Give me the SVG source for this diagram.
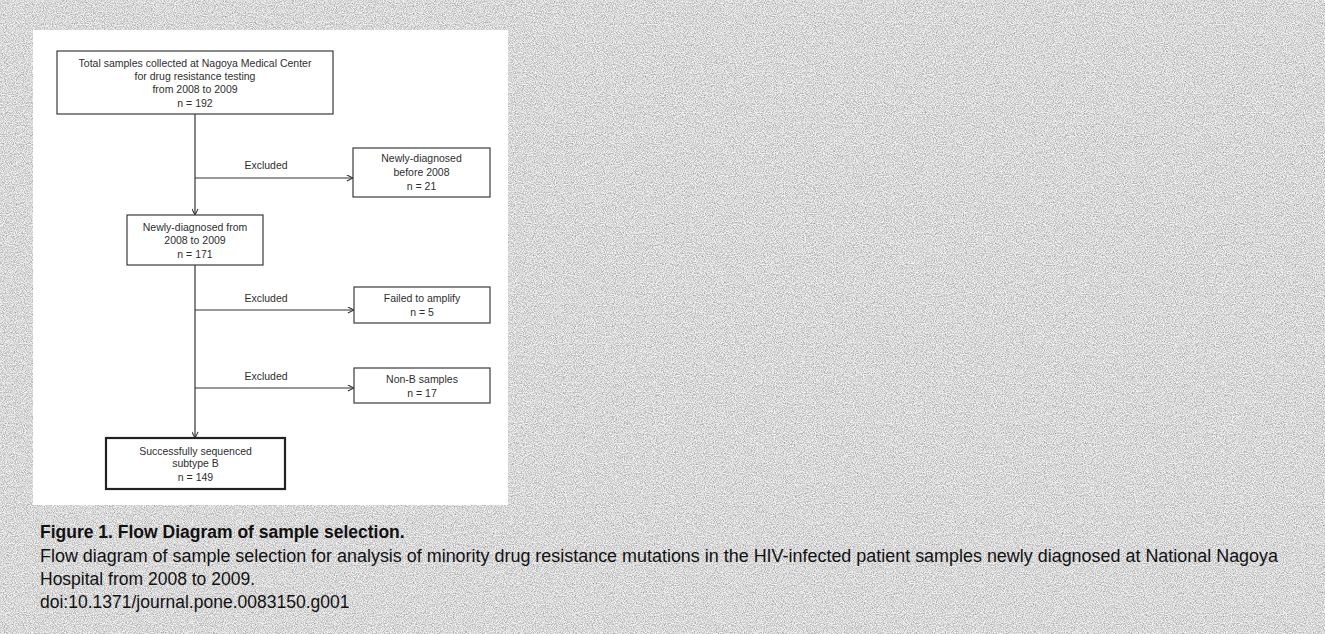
<svg xmlns="http://www.w3.org/2000/svg" width="1325" height="634" viewBox="0 0 1325 634">
<style>
.box{fill:#ffffff;stroke:#3a3a3a;stroke-width:1.2}
.boxb{fill:#ffffff;stroke:#222;stroke-width:2.2}
.t{font-family:"Liberation Sans",Arial,sans-serif;font-size:10.5px;fill:#2e2e2e;text-anchor:middle}
.ln{stroke:#333;stroke-width:1.2;fill:none}
.cap{font-family:"Liberation Sans",Arial,sans-serif;font-size:17.5px;fill:#111}
.capb{font-family:"Liberation Sans",Arial,sans-serif;font-size:17.5px;font-weight:bold;fill:#111}
</style>
<defs>
<filter id="noise" x="0" y="0" width="100%" height="100%">
<feTurbulence type="fractalNoise" baseFrequency="0.9" numOctaves="2" seed="7"/>
<feColorMatrix type="matrix" values="0 0 0 0 0  0 0 0 0 0  0 0 0 0 0  0.65 0 0 0 -0.21"/>
</filter>
<marker id="arr" viewBox="0 0 8 8" refX="7.5" refY="4" markerWidth="7" markerHeight="7" markerUnits="userSpaceOnUse" orient="auto">
<path d="M0.5,0.5 L7.5,4 L0.5,7.5" fill="none" stroke="#333" stroke-width="1.2"/>
</marker>
</defs>
<rect x="0" y="0" width="1325" height="634" fill="#f4f4f4"/>
<rect x="0" y="0" width="1325" height="634" filter="url(#noise)"/>
<rect x="33" y="30" width="475" height="475" fill="#ffffff"/>

<g id="connectors">
<line class="ln" x1="195" y1="114" x2="195" y2="215" marker-end="url(#arr)"/>
<line class="ln" x1="195" y1="178" x2="353" y2="178" marker-end="url(#arr)"/>
<line class="ln" x1="195" y1="265" x2="195" y2="438" marker-end="url(#arr)"/>
<line class="ln" x1="195" y1="310" x2="354" y2="310" marker-end="url(#arr)"/>
<line class="ln" x1="195" y1="388" x2="354" y2="388" marker-end="url(#arr)"/>
<text class="t" x="266" y="168.5">Excluded</text>
<text class="t" x="266" y="301.5">Excluded</text>
<text class="t" x="266" y="379.5">Excluded</text>
</g>

<g id="node-total">
<rect class="box" x="57" y="51" width="276" height="63"/>
<text class="t" x="195" y="66.5">Total samples collected at Nagoya Medical Center</text>
<text class="t" x="195" y="79.5">for drug resistance testing</text>
<text class="t" x="195" y="92.5">from 2008 to 2009</text>
<text class="t" x="195" y="106.5">n = 192</text>
</g>

<g id="node-before2008">
<rect class="box" x="353" y="148" width="137" height="49"/>
<text class="t" x="421.5" y="161.5">Newly-diagnosed</text>
<text class="t" x="421.5" y="175.5">before 2008</text>
<text class="t" x="421.5" y="189.5">n = 21</text>
</g>

<g id="node-newly">
<rect class="box" x="127" y="215" width="136" height="50"/>
<text class="t" x="195" y="230.5">Newly-diagnosed from</text>
<text class="t" x="195" y="243.5">2008 to 2009</text>
<text class="t" x="195" y="257.5">n = 171</text>
</g>

<g id="node-failed">
<rect class="box" x="354" y="287" width="136" height="36"/>
<text class="t" x="422" y="301.5">Failed to amplify</text>
<text class="t" x="422" y="315.5">n = 5</text>
</g>

<g id="node-nonb">
<rect class="box" x="354" y="368" width="136" height="35"/>
<text class="t" x="422" y="382.5">Non-B samples</text>
<text class="t" x="422" y="396.5">n = 17</text>
</g>

<g id="node-final">
<rect class="boxb" x="106" y="438" width="179" height="51"/>
<text class="t" x="195.5" y="454.5">Successfully sequenced</text>
<text class="t" x="195.5" y="466.5">subtype B</text>
<text class="t" x="195.5" y="480.5">n = 149</text>
</g>

<g id="caption">
<text class="capb" x="40" y="538">Figure 1. Flow Diagram of sample selection.</text>
<text class="cap" x="40" y="562" textLength="1238" lengthAdjust="spacingAndGlyphs">Flow diagram of sample selection for analysis of minority drug resistance mutations in the HIV-infected patient samples newly diagnosed at National Nagoya</text>
<text class="cap" x="40" y="585">Hospital from 2008 to 2009.</text>
<text class="cap" x="40" y="608">doi:10.1371/journal.pone.0083150.g001</text>
</g>
</svg>
